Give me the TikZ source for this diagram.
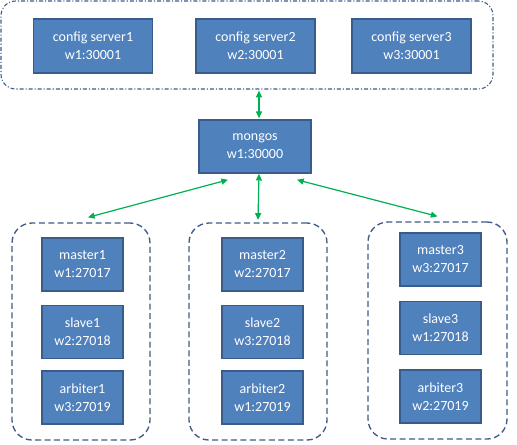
\documentclass[tikz,border=0pt]{standalone}
\usepackage{fontspec}
\setmainfont{Carlito}
\usetikzlibrary{arrows.meta,calc}
\definecolor{boxfill}{HTML}{4F81BD}
\definecolor{boxline}{HTML}{385D8A}
\definecolor{grpline}{HTML}{3E5C86}
\definecolor{arrgreen}{HTML}{00B050}
\begin{document}
\begin{tikzpicture}[x=0.75pt,y=-0.75pt,
  srv/.style={draw=boxline,fill=boxfill,line width=1.2pt,text=white,
    minimum width=81*0.75pt,minimum height=53*0.75pt,inner sep=0pt,
    align=center,font=\fontsize{10.5}{13.5}\selectfont},
  cfg/.style={srv,minimum width=119*0.75pt,minimum height=54*0.75pt},
  grp/.style={draw=grpline,line width=1pt,rounded corners=15pt,
    dash pattern=on 4.5pt off 2.6pt,minimum width=138*0.75pt,minimum height=217*0.75pt,inner sep=0pt},
  topgrp/.style={draw=grpline,line width=0.8pt,rounded corners=11pt,
    dash pattern=on 3pt off 1.5pt on 0.8pt off 1.5pt,inner sep=0pt},
  arr/.style={draw=arrgreen,line width=0.9pt,{Triangle[length=5pt,width=4.5pt]}-{Triangle[length=5pt,width=4.5pt]}}]
\useasboundingbox (0,0) rectangle (517,444);
% top container
\node[topgrp,minimum width=492*0.75pt,minimum height=88*0.75pt] (top) at (247,45) {};
\node[cfg] (cs1) at (93,46) {config server1\\w1:30001};
\node[cfg] (cs2) at (255.5,46) {config server2\\w2:30001};
\node[cfg] (cs3) at (411.5,46) {config server3\\w3:30001};
% mongos
\node[srv,minimum width=112*0.75pt] (mongos) at (255,146.5) {mongos\\w1:30000};
% groups
\node[grp] (g1) at (81,331.5) {};
\node[grp] (g2) at (258,331.5) {};
\node[grp,minimum width=139*0.75pt] (g3) at (437.5,330.5) {};
\node[srv] (m1) at (82.5,264.5) {master1\\w1:27017};
\node[srv] (s1) at (82.5,332) {slave1\\w2:27018};
\node[srv] (a1) at (82.5,397.5) {arbiter1\\w3:27019};
\node[srv] (m2) at (262.5,264.5) {master2\\w2:27017};
\node[srv] (s2) at (262.5,332) {slave2\\w3:27018};
\node[srv] (a2) at (262.5,397.5) {arbiter2\\w1:27019};
\node[srv] (m3) at (440.5,259.5) {master3\\w3:27017};
\node[srv] (s3) at (440.5,328) {slave3\\w1:27018};
\node[srv] (a3) at (440.5,396.5) {arbiter3\\w2:27019};
% arrow end points
\coordinate (ct) at ([xshift=3pt,yshift=-0.8pt]mongos.north |- top.south);
\coordinate (cb) at ([xshift=3pt,yshift=0.8pt]mongos.north);
\coordinate (ml) at ([xshift=-27*0.75pt,yshift=-6*0.75pt]mongos.south);
\coordinate (mm) at ([xshift=3pt]mongos.south);
\coordinate (mr) at ([xshift=42*0.75pt,yshift=-6*0.75pt]mongos.south);
\coordinate (gl) at ([xshift=7*0.75pt,yshift=5*0.75pt]g1.north);
\coordinate (gm) at ([xshift=0pt,yshift=2.5*0.75pt]g2.north);
\coordinate (gr) at ([yshift=5*0.75pt]g3.north);
\draw[arr] (ct) -- (cb);
\draw[arr] (ml) -- (gl);
\draw[arr] (mm) -- (gm);
\draw[arr] (mr) -- (gr);
\end{tikzpicture}
\end{document}
